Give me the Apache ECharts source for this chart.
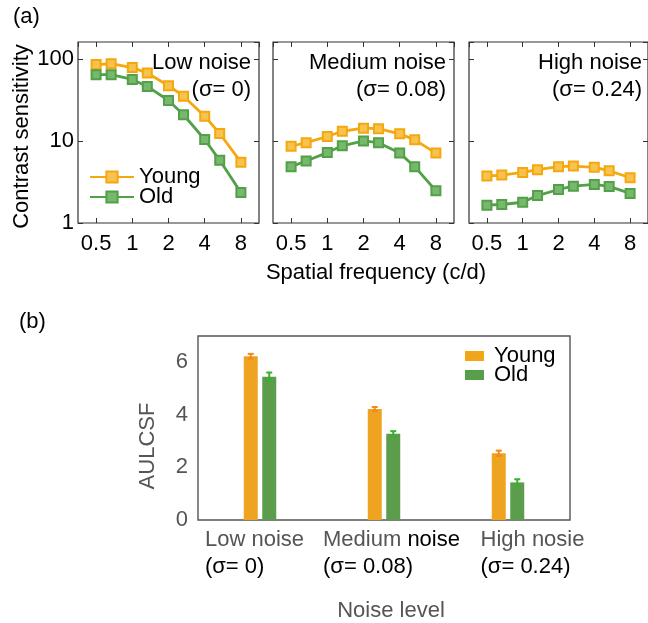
<!DOCTYPE html>
<html>
<head>
<meta charset="utf-8">
<script src="https://cdn.jsdelivr.net/npm/echarts@6/dist/echarts.min.js"></script>
<style>
  html, body { margin: 0; padding: 0; background: #fff; }
  #chart { width: 648px; height: 623px; }
</style>
</head>
<body>
<div id="chart"></div>
<script>
// spatial frequencies (c/d), shared by the three CSF panels
const freqs = [0.5, 0.667, 1, 1.333, 2, 2.667, 4, 5.333, 8];

// contrast sensitivity per panel
const youngLow = [85, 87, 78, 67, 47, 35, 20, 12.3, 5.5];
const oldLow = [64, 64, 56, 46, 31, 20.8, 10.4, 5.8, 2.35];
const youngMed = [8.6, 9.5, 11.3, 13.1, 14.3, 14.1, 12.2, 10.3, 7.1];
const oldMed = [4.85, 5.7, 7.2, 8.7, 10.0, 9.5, 7.1, 4.85, 2.47];
const youngHigh = [3.73, 3.83, 4.13, 4.46, 4.85, 4.94, 4.76, 4.33, 3.56];
const oldHigh = [1.65, 1.68, 1.79, 2.16, 2.56, 2.81, 2.95, 2.79, 2.29];

const panelNames = ["Low noise", "Medium noise", "High noise"];
const panelSigmas = ["(σ= 0)", "(σ= 0.08)", "(σ= 0.24)"];

// AULCSF bars
const noiseLevels = ["Low noise", "Medium noise", "High nosie"];
const sigmaLabels = ["(σ= 0)", "(σ= 0.08)", "(σ= 0.24)"];
const youngAuc = [6.23, 4.22, 2.54];
const oldAuc = [5.45, 3.28, 1.43];
const youngErr = [0.09, 0.08, 0.1];
const oldErr = [0.16, 0.1, 0.12];

const YOUNG = "#F5A80E";
const OLD = "#52A047";
const YOUNG_BAR = "#EEA420";
const OLD_BAR = "#5B9D4B";
const FONT = "Liberation Sans, Arial, sans-serif";

const chart = echarts.init(document.getElementById("chart"));

const panelLeft = [78, 273, 469];
const PW = 181, PT = 42, PH = 181;
const youngSets = [youngLow, youngMed, youngHigh];
const oldSets = [oldLow, oldMed, oldHigh];

const grid = [];
const xAxis = [];
const yAxis = [];
const series = [];
const graphic = [];

const tickStyle = { inside: true, length: 5, lineStyle: { color: "#333", width: 1 } };

panelLeft.forEach((left, i) => {
  grid.push({ left: left, top: PT, width: PW, height: PH, show: true, borderColor: "#333", borderWidth: 1.2 });
  const xBase = {
    type: "log", logBase: 2, gridIndex: i, min: Math.pow(2, -1.5), max: Math.pow(2, 3.5),
    axisLine: { show: false }, splitLine: { show: false }, axisTick: tickStyle
  };
  xAxis.push(Object.assign({}, xBase, {
    position: "bottom",
    axisLabel: { showMinLabel: false, showMaxLabel: false, color: "#000", fontSize: 22, fontFamily: FONT, margin: 10 },
    name: i === 1 ? "Spatial frequency (c/d)" : "",
    nameLocation: "middle", nameGap: 39,
    nameTextStyle: { fontSize: 22, color: "#000", fontFamily: FONT, padding: [0, 0, 0, 25] }
  }));
  xAxis.push(Object.assign({}, xBase, { position: "top", axisLabel: { show: false } }));
  const yBase = {
    type: "log", logBase: 10, gridIndex: i, min: 1, max: 160,
    axisLine: { show: false }, splitLine: { show: false }, axisTick: tickStyle
  };
  yAxis.push(Object.assign({}, yBase, {
    position: "left",
    axisLabel: { show: i === 0, showMinLabel: true, showMaxLabel: false, color: "#000", fontSize: 22, fontFamily: FONT, margin: 4 },
    name: i === 0 ? "Contrast sensitivity" : "",
    nameLocation: "middle", nameGap: 45,
    nameTextStyle: { fontSize: 22, color: "#000", fontFamily: FONT, padding: [0, 8, 0, 0] }
  }));
  yAxis.push(Object.assign({}, yBase, { position: "right", axisLabel: { show: false } }));

  [["Young", youngSets[i], YOUNG, "#F7C350"], ["Old", oldSets[i], OLD, "#78B86E"]].forEach(([name, vals, col, fill]) => {
    series.push({
      name: name, type: "line", xAxisIndex: 2 * i, yAxisIndex: 2 * i,
      data: freqs.map((f, k) => [f, vals[k]]),
      symbol: "rect", symbolSize: 9, showSymbol: true,
      lineStyle: { color: col, width: 2.8 },
      itemStyle: { color: fill, borderColor: col, borderWidth: 2 },
      emphasis: { disabled: true }, animation: false
    });
  });

  graphic.push({
    type: "text", right: 648 - (left + PW - 8), top: 52,
    style: { text: panelNames[i], font: "22px " + FONT, fill: "#000", textAlign: "right" }
  });
  graphic.push({
    type: "text", right: 648 - (left + PW - 8), top: 79,
    style: { text: panelSigmas[i], font: "22px " + FONT, fill: "#000", textAlign: "right" }
  });
});

// bottom bar chart, grid index 3
grid.push({ left: 198, top: 336, width: 372, height: 188, show: true, borderColor: "#555", borderWidth: 1.4 });
const catBase = {
  type: "category", gridIndex: 3, data: noiseLevels,
  axisLine: { show: false }, splitLine: { show: false },
  axisTick: { inside: true, length: 5, alignWithLabel: true, lineStyle: { color: "#555" } }
};
const labelPads = [[0, 11, 0, 0], [0, 0, 0, 15], [0, 0, 0, 49]];
xAxis.push(Object.assign({}, catBase, {
  position: "bottom",
  data: noiseLevels.map((c, i) => ({ value: c, textStyle: { padding: labelPads[i] } })),
  axisLabel: {
    interval: 0, margin: 6,
    formatter: (v, i) => {
      const first = i === 1 ? "{g|Medium }{k|noise}" : "{g|" + v + "}";
      return first + "\n{k|" + sigmaLabels[i] + "}";
    },
    rich: {
      g: { color: "#555", fontSize: 22, fontFamily: FONT, lineHeight: 27, align: "left" },
      k: { color: "#000", fontSize: 22, fontFamily: FONT, lineHeight: 27, align: "left" }
    }
  },
  name: "Noise level", nameLocation: "middle", nameGap: 80,
  nameTextStyle: { fontSize: 22, color: "#555", fontFamily: FONT, padding: [0, 0, 0, 14] }
}));
xAxis.push(Object.assign({}, catBase, { position: "top", axisLabel: { show: false } }));
const valBase = {
  type: "value", gridIndex: 3, min: 0, max: 7, interval: 2,
  axisLine: { show: false }, splitLine: { show: false },
  axisTick: { inside: true, length: 5, lineStyle: { color: "#555" } }
};
yAxis.push(Object.assign({}, valBase, {
  position: "left",
  axisLabel: { showMaxLabel: false, color: "#555", fontSize: 22, fontFamily: FONT, margin: 10 },
  name: "AULCSF", nameLocation: "middle", nameGap: 39,
  nameTextStyle: { fontSize: 22, color: "#555", fontFamily: FONT, padding: [0, 36, 0, 0] }
}));
yAxis.push(Object.assign({}, valBase, { position: "right", axisLabel: { show: false } }));

series.push({
  name: "Young", type: "bar", xAxisIndex: 6, yAxisIndex: 6, data: youngAuc,
  barWidth: 14, barGap: "32%", itemStyle: { color: YOUNG_BAR }, animation: false
});
series.push({
  name: "Old", type: "bar", xAxisIndex: 6, yAxisIndex: 6, data: oldAuc,
  barWidth: 14, barGap: "32%", itemStyle: { color: OLD_BAR }, animation: false
});

function errorBars(vals, errs, offset, color) {
  return {
    type: "custom", xAxisIndex: 6, yAxisIndex: 6, z: 5, animation: false, silent: true,
    data: vals.map((v, i) => [i, v, errs[i]]),
    renderItem: (params, api) => {
      const top = api.coord([api.value(0), api.value(1) + api.value(2)]);
      const bot = api.coord([api.value(0), api.value(1) - api.value(2)]);
      const x = top[0] + offset;
      const st = { stroke: color, lineWidth: 2 };
      return {
        type: "group",
        children: [
          { type: "line", shape: { x1: x, y1: top[1], x2: x, y2: bot[1] }, style: st },
          { type: "line", shape: { x1: x - 3, y1: top[1], x2: x + 3, y2: top[1] }, style: st },
          { type: "line", shape: { x1: x - 3, y1: bot[1], x2: x + 3, y2: bot[1] }, style: st }
        ]
      };
    }
  };
}
series.push(errorBars(youngAuc, youngErr, -9.25, "#F08A1C"));
series.push(errorBars(oldAuc, oldErr, 9.25, "#38B030"));

graphic.push({ type: "text", left: 13, top: 6, style: { text: "(a)", font: "22px " + FONT, fill: "#000" } });
graphic.push({ type: "text", left: 19, top: 311, style: { text: "(b)", font: "22px " + FONT, fill: "#000" } });

chart.setOption({
  animation: false,
  textStyle: { fontFamily: FONT },
  grid: grid,
  xAxis: xAxis,
  yAxis: yAxis,
  legend: [
    {
      data: ["Young", "Old"], orient: "vertical", left: 84, top: 161,
      itemWidth: 44, itemHeight: 14, itemGap: -2, selectedMode: false,
      textStyle: { fontSize: 22, color: "#000", fontFamily: FONT }
    },
    {
      data: [
        { name: "Young", icon: "rect", itemStyle: { color: YOUNG_BAR } },
        { name: "Old", icon: "rect", itemStyle: { color: OLD_BAR } }
      ],
      orient: "vertical", left: 460, top: 340,
      itemWidth: 17, itemHeight: 8, itemGap: -3, selectedMode: false,
      textStyle: { fontSize: 22, color: "#000", fontFamily: FONT, padding: [0, 0, 0, 6] }
    }
  ],
  graphic: graphic,
  series: series
});
</script>
</body>
</html>
